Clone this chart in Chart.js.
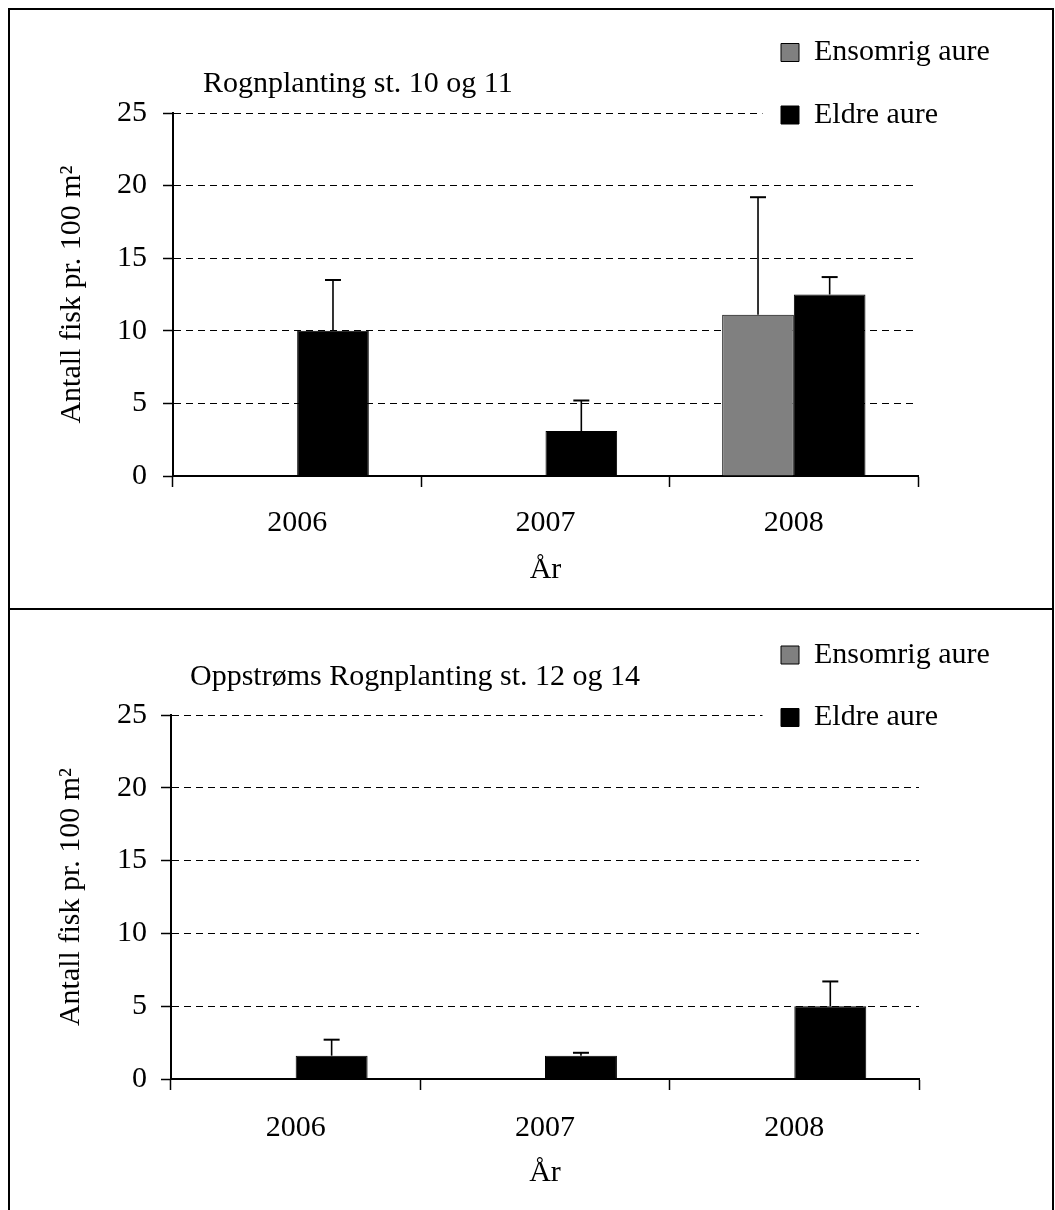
<!DOCTYPE html>
<html>
<head>
<meta charset="utf-8">
<script src="https://cdn.jsdelivr.net/npm/chart.js@4.4.1/dist/chart.umd.min.js"></script>
<style>
    body { margin: 0; overflow: hidden; background: #fff; }
    #page { position: relative; width: 1055px; height: 1210px; }
    .frame { position: absolute; left: 8px; width: 1046px; border: 2px solid #000; box-sizing: border-box; }
    canvas { position: absolute; left: 0; }
</style>
</head>
<body>
<div id="page">
    <div class="frame" style="top: 8px; height: 602px;"></div>
    <div class="frame" style="top: 608px; height: 620px;"></div>
    <canvas id="topChart" width="1055" height="608" style="top: 0;"></canvas>
    <canvas id="bottomChart" width="1055" height="602" style="top: 608px;"></canvas>
</div>

<script>
// chart data
const years = ['2006', '2007', '2008'];
const seriesNames = ['Ensomrig aure', 'Eldre aure'];
const yTicks = [0, 5, 10, 15, 20, 25];

// Rognplanting st. 10 og 11
const topEnsomrig = [0, 0, 11.1];
const topEnsomrigErr = [0, 0, 8.1];
const topEldre = [10.0, 3.1, 12.5];
const topEldreErr = [3.5, 2.1, 1.2];

// Oppstrøms Rognplanting st. 12 og 14
const bottomEnsomrig = [0, 0, 0];
const bottomEnsomrigErr = [0, 0, 0];
const bottomEldre = [1.6, 1.6, 5.0];
const bottomEldreErr = [1.1, 0.2, 1.7];

Chart.defaults.font.family = "'Times New Roman', 'Liberation Serif', serif";
Chart.defaults.font.size = 30;
Chart.defaults.color = '#000';

// draws the +SD whiskers on top of each bar
const errorBars = {
    id: 'errorBars',
    afterDatasetsDraw(chart) {
        let ctx = chart.ctx;
        let yScale = chart.scales.y;
        chart.data.datasets.forEach((ds, i) => {
            chart.getDatasetMeta(i).data.forEach((bar, j) => {
                let err = ds.errors[j];
                if (!err) return;
                let top = yScale.getPixelForValue(ds.data[j] + err);
                ctx.save();
                ctx.strokeStyle = '#000';
                ctx.lineWidth = 1.6;
                ctx.beginPath();
                ctx.moveTo(bar.x, bar.y);
                ctx.lineTo(bar.x, top);
                ctx.stroke();
                ctx.lineWidth = 2;
                ctx.beginPath();
                ctx.moveTo(bar.x - 8, top);
                ctx.lineTo(bar.x + 8, top);
                ctx.stroke();
                ctx.restore();
            });
        });
    }
};

// legend floats over the top right corner like in Excel, title is nudged right
const placeBoxes = {
    id: 'placeBoxes',
    beforeInit(chart) {
        let legend = chart.legend;
        let fit = legend.fit;
        legend.fit = function () {
            fit.call(this);
            this.width = 0; // takes no room from the plot
        };
        let draw = legend.draw;
        legend.draw = function () {
            let ctx = this.ctx;
            ctx.save();
            ctx.fillStyle = '#fff';
            ctx.fillRect(this.left + 14, this.top + 25, 240, 112);
            ctx.restore();
            draw.call(this);
        };
    },
    afterLayout(chart, args, opts) {
        let legend = chart.legend;
        legend.left = opts.legendX;
        legend.top = opts.legendY;
        legend.right = chart.width;
        legend.bottom = chart.height;
        chart.titleBlock.left = opts.titleX;
    }
};

function makeChart(canvasId, title, ensomrig, ensomrigErr, eldre, eldreErr, geo) {
    let ctx = document.getElementById(canvasId).getContext('2d');
    return new Chart(ctx, {
        type: 'bar',
        data: {
            labels: years,
            datasets: [{
                label: seriesNames[0],
                data: ensomrig,
                errors: ensomrigErr,
                backgroundColor: '#808080',
                borderColor: '#000',
                borderWidth: 1
            }, {
                label: seriesNames[1],
                data: eldre,
                errors: eldreErr,
                backgroundColor: '#000',
                borderColor: '#000',
                borderWidth: 1
            }]
        },
        options: {
            responsive: false,
            animation: false,
            categoryPercentage: 0.577,
            barPercentage: 1.0,
            layout: {
                padding: { left: 0, top: 0, right: geo.padRight, bottom: 0 }
            },
            scales: {
                x: {
                    grid: {
                        offset: true,
                        drawOnChartArea: false,
                        tickLength: 11,
                        tickColor: '#000',
                        tickWidth: 1.5
                    },
                    border: { color: '#000', width: 2 },
                    ticks: { padding: geo.xPad },
                    title: {
                        display: true,
                        text: 'År',
                        padding: { top: 0, bottom: geo.xTitlePad }
                    },
                    afterFit: function (scale) {
                        scale.height = geo.xHeight;
                    }
                },
                y: {
                    min: 0,
                    max: 25,
                    grid: {
                        color: '#000',
                        lineWidth: 1,
                        tickLength: 10,
                        tickColor: '#000',
                        tickWidth: 1.5
                    },
                    border: { color: '#000', width: 2, dash: [7, 5] },
                    ticks: { padding: geo.yPad },
                    title: {
                        display: true,
                        text: 'Antall fisk pr. 100 m²',
                        padding: { top: geo.yTitlePad, bottom: 0 }
                    },
                    afterBuildTicks: function (scale) {
                        scale.ticks = yTicks.map(v => ({ value: v }));
                    },
                    afterFit: function (scale) {
                        scale.width = geo.yWidth;
                    }
                }
            },
            plugins: {
                title: {
                    display: true,
                    text: title,
                    align: 'start',
                    font: { size: 30, weight: 'normal' },
                    padding: { top: geo.titleTop, bottom: geo.titleBottom }
                },
                legend: {
                    position: 'right',
                    align: 'start',
                    labels: {
                        boxWidth: 18,
                        boxHeight: 18,
                        padding: 32.5,
                        font: { size: 30 }
                    }
                },
                tooltip: { enabled: false },
                placeBoxes: { legendX: geo.legendX, legendY: geo.legendY, titleX: geo.titleX }
            }
        },
        plugins: [errorBars, placeBoxes]
    });
}

makeChart('topChart', 'Rognplanting st. 10 og 11', topEnsomrig, topEnsomrigErr, topEldre, topEldreErr, {
    padRight: 137, yWidth: 173, xHeight: 132,
    titleTop: 66, titleBottom: 11, titleX: 203,
    xPad: 18, xTitlePad: 20, yPad: 16, yTitlePad: 54,
    legendX: 748.5, legendY: 5
});

makeChart('bottomChart', 'Oppstrøms Rognplanting st. 12 og 14', bottomEnsomrig, bottomEnsomrigErr, bottomEldre, bottomEldreErr, {
    padRight: 136, yWidth: 171, xHeight: 131,
    titleTop: 51, titleBottom: 20, titleX: 190,
    xPad: 20, xTitlePad: 19, yPad: 14, yTitlePad: 53,
    legendX: 748.5, legendY: -0.5
});
</script>
</body>
</html>
